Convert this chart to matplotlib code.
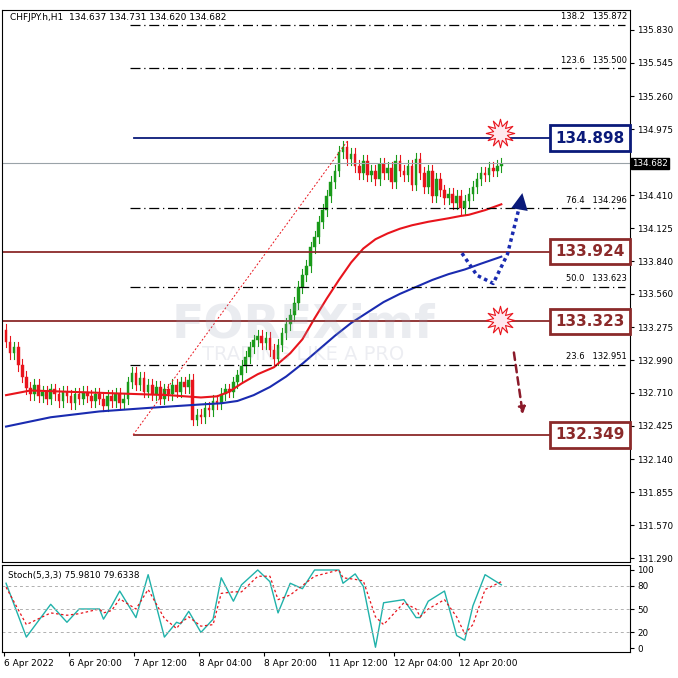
import numpy as np
import matplotlib.pyplot as plt
from matplotlib.transforms import blended_transform_factory as blend

# hourly closes, CHFJPY H1
closes = [133.15, 133.05, 133.10, 132.95, 132.85, 132.75, 132.70, 132.78, 132.68, 132.72,
          132.66, 132.74, 132.70, 132.64, 132.72, 132.68, 132.62, 132.70, 132.66, 132.72,
          132.68, 132.64, 132.70, 132.66, 132.60, 132.68, 132.64, 132.70, 132.62, 132.66,
          132.80, 132.88, 132.78, 132.84, 132.72, 132.78, 132.70, 132.76, 132.66, 132.74,
          132.70, 132.78, 132.72, 132.80, 132.76, 132.82, 132.48, 132.52, 132.50, 132.58,
          132.56, 132.64, 132.62, 132.70, 132.74, 132.72, 132.80, 132.86, 132.94, 133.02,
          133.10, 133.16, 133.20, 133.14, 133.18, 133.08, 133.00, 133.12, 133.22, 133.30,
          133.38, 133.48, 133.62, 133.72, 133.80, 133.96, 134.05, 134.18, 134.28, 134.40,
          134.52, 134.62, 134.78, 134.82, 134.72, 134.76, 134.66, 134.60, 134.70, 134.58,
          134.62, 134.55, 134.68, 134.60, 134.64, 134.52, 134.70, 134.62, 134.58, 134.66,
          134.50, 134.72, 134.60, 134.48, 134.62, 134.40, 134.55, 134.45, 134.38, 134.42,
          134.34, 134.40, 134.30, 134.36, 134.42, 134.48, 134.55, 134.60, 134.58, 134.64,
          134.62, 134.66, 134.68]
first_open = 133.25

# moving averages (sampled)
ma_red_x = [0, 6, 23, 40, 48, 52, 55, 58, 62, 66, 70, 73, 76, 79, 82, 85, 88, 91, 94, 97,
            100, 104, 109, 112, 114, 118, 122]
ma_red_y = [132.69, 132.73, 132.71, 132.69, 132.67, 132.68, 132.72, 132.79, 132.87, 132.93,
            133.05, 133.17, 133.35, 133.52, 133.68, 133.83, 133.95, 134.03, 134.08, 134.12,
            134.15, 134.18, 134.21, 134.23, 134.24, 134.28, 134.33]
ma_blue_x = [0, 11, 23, 35, 48, 53, 57, 61, 65, 69, 73, 77, 81, 85, 89, 93, 97, 101, 105,
             109, 113, 117, 122]
ma_blue_y = [132.42, 132.50, 132.55, 132.58, 132.61, 132.62, 132.64, 132.69, 132.76, 132.85,
             132.96, 133.08, 133.20, 133.31, 133.40, 133.49, 133.56, 133.62, 133.68, 133.73,
             133.77, 133.82, 133.88]

# stochastic (5,3,3)
st_x = [0, 5, 11, 15, 18, 23, 24, 26, 28, 32, 35, 39, 42, 43, 45, 48, 51, 53, 56, 58, 62,
        65, 67, 70, 73, 76, 82, 83, 86, 88, 91, 93, 98, 101, 102, 104, 108, 111, 113, 115, 118, 122]
st_main = [83, 14, 56, 33, 50, 50, 37, 54, 73, 39, 94, 14, 33, 31, 47, 20, 37, 90, 60, 81, 100,
           85, 45, 83, 76, 100, 100, 83, 95, 79, 1, 58, 62, 39, 39, 60, 73, 16, 10, 54, 94, 81]
st_sig = [78, 30, 45, 42, 44, 50, 45, 48, 63, 50, 75, 38, 25, 32, 40, 28, 30, 70, 72, 72, 92,
          92, 62, 68, 80, 92, 100, 90, 88, 86, 40, 30, 58, 50, 40, 50, 62, 40, 18, 30, 75, 85]

fib_lvls = [135.872, 135.500, 134.296, 133.623, 132.951]
fib_pcts = ['138.2', '123.6', '76.4', '50.0', '23.6']
sr_lvls = [134.898, 133.924, 133.323, 132.349]
sr_cols = ['#0a1a7a', '#8b2a2a', '#8b2a2a', '#8b2a2a']
last_price = 134.682
price_ticks = [135.830, 135.545, 135.260, 134.975, 134.410, 134.125, 133.840, 133.560,
               133.275, 132.990, 132.710, 132.425, 132.140, 131.855, 131.570, 131.290]

xlabels = ['6 Apr 2022', '6 Apr 20:00', '7 Apr 12:00', '8 Apr 04:00', '8 Apr 20:00',
           '11 Apr 12:00', '12 Apr 04:00', '12 Apr 20:00']

W = 678
fig = plt.figure(figsize=(6.78, 6.78), dpi=100)
ax = fig.add_axes([2/W, 1-562/W, 628/W, 552/W])
sx = fig.add_axes([2/W, 1-652/W, 628/W, 87/W])

opens = [first_open] + closes[:-1]
for i, (o, c) in enumerate(zip(opens, closes)):
    col = '#1a9a1a' if c >= o else '#e8141c'
    ax.plot([i, i], [min(o, c) - 0.05, max(o, c) + 0.05], color=col, lw=0.8)
    ax.bar(i, abs(c - o) or 0.005, bottom=min(o, c), width=0.65, color=col, edgecolor=col, lw=0.3)

ax.plot(ma_red_x, ma_red_y, color='#e8141c', lw=1.5)
ax.plot(ma_blue_x, ma_blue_y, color='#1a2bb0', lw=1.5)

xl = (-1, 153.7)
ax.set_xlim(*xl)
ax.set_ylim(131.256, 136.0)
tb = blend(ax.transAxes, ax.transData)

ax.axhline(last_price, color='#9aa3a8', lw=0.8)
for p, lv in zip(fib_pcts, fib_lvls):
    ax.plot([30.5, 152.5], [lv, lv], color='black', lw=0.9, ls=(0, (8, 3, 1, 3)))
    ax.text(0.995, lv + 0.03, f'{p}   {lv:.3f}', transform=tb, ha='right', va='bottom', fontsize=6)
for lv, c in zip(sr_lvls, sr_cols):
    x0 = 31.5 if lv in (134.898, 132.349) else -1
    ax.plot([x0, 134.3], [lv, lv], color=c, lw=1.3)
    ax.text(0.936, lv, f'{lv:.3f}', transform=tb, ha='center', va='center', fontsize=11,
            fontweight='bold', color=c,
            bbox=dict(boxstyle='square,pad=0.35', fc='white', ec=c, lw=2))
ax.plot([31.3, 84], [132.349, 134.87], color='#e8141c', lw=0.7, ls=(0, (2, 2)))

# annotations
ax.plot([112.3, 116, 120, 123.5, 126.6], [133.91, 133.72, 133.65, 133.9, 134.33],
        color='#1a2bb0', lw=2.5, ls=(0, (1, 1)))
ax.annotate('', xy=(127.3, 134.45), xytext=(126.3, 134.25),
            arrowprops=dict(arrowstyle='-|>,head_width=0.6,head_length=1.2', color='#0a1a7a', lw=0))
ax.annotate('', xy=(127.4, 132.5), xytext=(125.0, 133.08),
            arrowprops=dict(arrowstyle='-|>', color='#8b1a2a', lw=1.8, ls=(0, (3, 2))))
ax.scatter([121.7, 121.7], [134.945, 133.34], marker=(12, 1, 0), s=420,
           facecolor='#ffe8ee', edgecolor='#e8141c', lw=0.8, zorder=5)
ax.text(0.48, 0.43, 'FOREXimf', transform=ax.transAxes, fontsize=34, fontweight='bold',
        color='#9aa0b8', alpha=0.2, ha='center', va='center')
ax.text(0.48, 0.375, 'TRADING LIKE A PRO', transform=ax.transAxes, fontsize=14,
        color='#9aa0b8', alpha=0.18, ha='center', va='center')

ax.text(0.012, 0.995, 'CHFJPY.h,H1  134.637 134.731 134.620 134.682', transform=ax.transAxes,
        fontsize=6.5, va='top')

ax.yaxis.tick_right()
ax.set_yticks(price_ticks)
ax.set_yticklabels([f'{t:.3f}' for t in price_ticks], fontsize=6.3)
ax.tick_params(axis='y', length=3, pad=2)
ax.set_xticks([])
ax.text(1.003, last_price, f'{last_price:.3f}', transform=tb, fontsize=6.3, color='white',
        va='center', ha='left', bbox=dict(boxstyle='square,pad=0.15', fc='black', ec='black'),
        clip_on=False, zorder=10)

# stochastic panel
sx.plot(st_x, st_main, color='#20b2aa', lw=1)
sx.plot(st_x, st_sig, color='#e8141c', lw=0.9, ls=(0, (2, 2)))
for h in (80, 50, 20):
    sx.axhline(h, color='#b0b0b0', lw=0.7, ls=(0, (3, 3)))
sx.set_xlim(*xl)
sx.set_ylim(-5.1, 106.4)
sx.yaxis.tick_right()
sx.set_yticks([0, 20, 50, 80, 100])
sx.set_yticklabels(['0', '20', '50', '80', '100'], fontsize=6.3)
sx.tick_params(axis='y', length=3, pad=2)
sx.text(0.01, 0.93, 'Stoch(5,3,3) 75.9810 79.6338', transform=sx.transAxes, fontsize=6.3, va='top')
sx.set_xticks([i * 16 - 0.5 for i in range(len(xlabels))])
sx.set_xticklabels(xlabels, fontsize=6.5, ha='left')
sx.tick_params(axis='x', length=3, pad=2)

fig.savefig('out.png', dpi=100)
